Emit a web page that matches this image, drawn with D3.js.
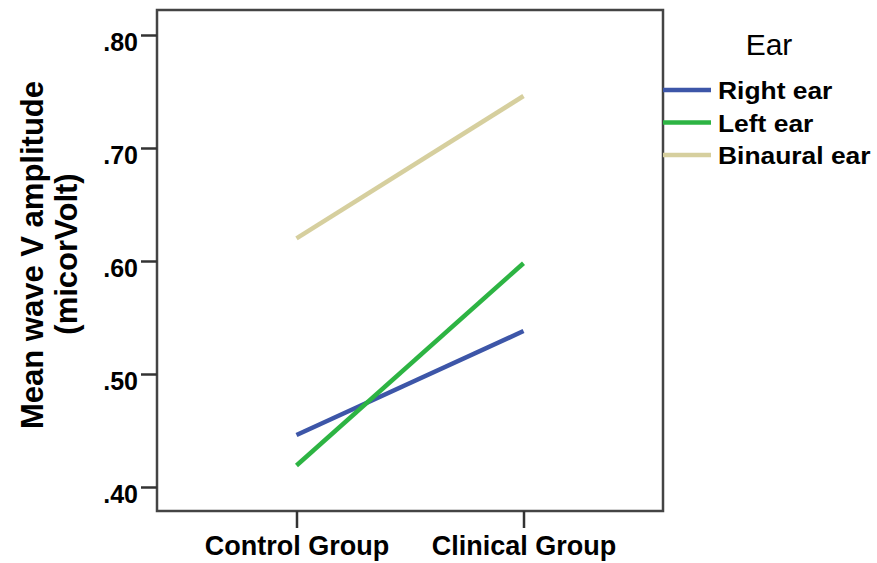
<!DOCTYPE html>
<html>
<head>
<meta charset="utf-8">
<script src="https://cdn.jsdelivr.net/npm/d3@7"></script>
<style>
  html, body { margin: 0; padding: 0; background: #fff; }
  svg { display: block; font-family: "Liberation Sans", Arial, sans-serif; }
</style>
</head>
<body>
<svg id="chart" width="877" height="563"></svg>
<script>
const categories = ["Control Group", "Clinical Group"];
const seriesNames = ["Right ear", "Left ear", "Binaural ear"];
const rightEar = [0.446, 0.538];
const leftEar = [0.419, 0.598];
const binauralEar = [0.620, 0.746];
const yTicks = [0.40, 0.50, 0.60, 0.70, 0.80];
const colors = ["#3d56a8", "#2db443", "#d6cf9e"];

const series = [rightEar, leftEar, binauralEar];

const svg = d3.select("#chart");
const frame = { left: 157, right: 663, top: 10, bottom: 511 };

const x = d3.scalePoint().domain(categories)
  .range([frame.left, frame.right]).padding(0.6145);
const y = d3.scaleLinear().domain([0.4, 0.8]).range([487, 35]);

const fmt = v => d3.format(".2f")(v).replace(/^0/, "");

// frame
svg.append("rect")
  .attr("x", frame.left).attr("y", frame.top)
  .attr("width", frame.right - frame.left).attr("height", frame.bottom - frame.top)
  .attr("fill", "none").attr("stroke", "#444").attr("stroke-width", 2.5);

// y axis
const yAxis = d3.axisLeft(y).tickValues(yTicks).tickFormat(fmt).tickSize(16).tickPadding(3);
const gy = svg.append("g").attr("transform", `translate(${frame.left},0)`).call(yAxis);
gy.select(".domain").remove();
gy.selectAll(".tick line").attr("stroke", "#333").attr("stroke-width", 2.5);
gy.selectAll(".tick text").attr("fill", "#000").attr("font-size", 25).attr("font-weight", "bold")
  .attr("font-family", "Liberation Sans, Arial, sans-serif").attr("dy", "0.62em");

// x axis
const xAxis = d3.axisBottom(x).tickSize(17).tickPadding(8);
const gx = svg.append("g").attr("transform", `translate(0,${frame.bottom})`).call(xAxis);
gx.select(".domain").remove();
gx.selectAll(".tick line").attr("stroke", "#333").attr("stroke-width", 2.5);
gx.selectAll(".tick text").attr("fill", "#000").attr("font-size", 27).attr("font-weight", "bold")
  .attr("font-family", "Liberation Sans, Arial, sans-serif");

// lines
const line = d3.line().x((d, i) => x(categories[i])).y(d => y(d));
series.forEach((s, i) => {
  svg.append("path").datum(s).attr("d", line)
    .attr("fill", "none").attr("stroke", colors[i]).attr("stroke-width", 4.5);
});

// y title
svg.append("text")
  .attr("transform", "translate(43,255) rotate(-90)")
  .attr("text-anchor", "middle").attr("font-size", 31).attr("font-weight", "bold").attr("fill", "#000")
  .text("Mean wave V amplitude");
svg.append("text")
  .attr("transform", "translate(77,254) rotate(-90)")
  .attr("text-anchor", "middle").attr("font-size", 31).attr("font-weight", "bold").attr("fill", "#000")
  .text("(micorVolt)");

// legend
const legend = svg.append("g");
legend.append("text").attr("x", 769).attr("y", 55).attr("text-anchor", "middle")
  .attr("font-size", 30).attr("fill", "#000").text("Ear");
const ly = d3.scalePoint().domain(seriesNames).range([90, 155]);
seriesNames.forEach((n, i) => {
  legend.append("line").attr("x1", 663).attr("x2", 711)
    .attr("y1", ly(n)).attr("y2", ly(n))
    .attr("stroke", colors[i]).attr("stroke-width", 4.5);
  legend.append("text")
    .attr("transform", `translate(718,${ly(n) + 9}) scale(1.1,1)`)
    .attr("font-size", 24).attr("font-weight", "bold").attr("fill", "#000").text(n);
});
</script>
</body>
</html>
